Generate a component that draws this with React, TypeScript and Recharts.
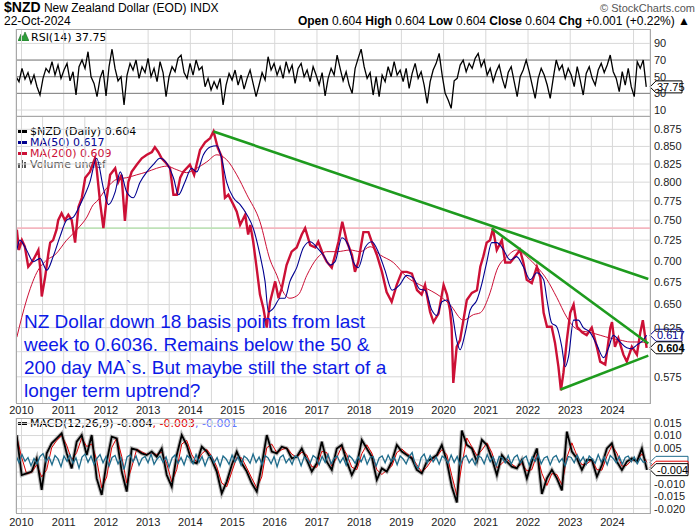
import React from 'react'
import { LineChart, Line, XAxis, YAxis, CartesianGrid, ReferenceLine } from 'recharts'

// ---- data (dates as decimal years) ----

const yearTicks = [2010, 2011, 2012, 2013, 2014, 2015, 2016, 2017, 2018, 2019, 2020, 2021, 2022, 2023, 2024]
// 0.600 sits under the close tag in the original, so it is left out
const priceTicks = [0.575, 0.625, 0.65, 0.675, 0.7, 0.725, 0.75, 0.775, 0.8, 0.825, 0.85, 0.875]
const priceGrid = [0.575, 0.6, 0.625, 0.65, 0.675, 0.7, 0.725, 0.75, 0.775, 0.8, 0.825, 0.85, 0.875]
const rsiTicks = [10, 30, 50, 70, 90]
// 0.000 and -0.005 are hidden by the value tags
const macdTicks = [-0.02, -0.015, -0.01, 0.005, 0.01, 0.015]
const macdGrid = [-0.02, -0.015, -0.01, -0.005, 0, 0.005, 0.01, 0.015]

const closeSeries: [number, number][] = [
  [2009.89, 0.738], [2009.94, 0.713], [2010.01, 0.725], [2010.08, 0.717], [2010.16, 0.693], [2010.24, 0.698], [2010.32, 0.705], [2010.40, 0.713], [2010.44, 0.693], [2010.48, 0.659],
  [2010.56, 0.681], [2010.64, 0.710], [2010.68, 0.722], [2010.75, 0.725], [2010.83, 0.738], [2010.87, 0.750], [2010.95, 0.759], [2011.03, 0.750], [2011.11, 0.757], [2011.19, 0.750],
  [2011.27, 0.722], [2011.35, 0.767], [2011.43, 0.779], [2011.51, 0.806], [2011.62, 0.814], [2011.74, 0.833], [2011.78, 0.819], [2011.86, 0.774], [2011.94, 0.740], [2012.02, 0.779],
  [2012.10, 0.810], [2012.22, 0.819], [2012.29, 0.800], [2012.37, 0.810], [2012.45, 0.749], [2012.53, 0.800], [2012.61, 0.814], [2012.73, 0.824], [2012.85, 0.833], [2012.97, 0.838],
  [2013.09, 0.842], [2013.16, 0.849], [2013.24, 0.842], [2013.32, 0.833], [2013.40, 0.828], [2013.52, 0.819], [2013.60, 0.783], [2013.68, 0.783], [2013.76, 0.806], [2013.83, 0.814],
  [2013.99, 0.824], [2014.09, 0.810], [2014.23, 0.845], [2014.35, 0.856], [2014.47, 0.862], [2014.55, 0.872], [2014.65, 0.848], [2014.74, 0.836], [2014.82, 0.779], [2014.90, 0.783],
  [2015.02, 0.770], [2015.10, 0.761], [2015.18, 0.744], [2015.30, 0.757], [2015.37, 0.732], [2015.42, 0.744], [2015.49, 0.723], [2015.57, 0.692], [2015.65, 0.661], [2015.73, 0.646],
  [2015.81, 0.625], [2015.89, 0.653], [2016.01, 0.676], [2016.09, 0.657], [2016.17, 0.669], [2016.28, 0.695], [2016.40, 0.711], [2016.52, 0.716], [2016.64, 0.732], [2016.72, 0.740],
  [2016.84, 0.719], [2016.96, 0.716], [2017.03, 0.723], [2017.15, 0.707], [2017.23, 0.699], [2017.35, 0.692], [2017.43, 0.707], [2017.51, 0.723], [2017.60, 0.748], [2017.71, 0.723],
  [2017.83, 0.707], [2017.90, 0.687], [2017.98, 0.699], [2018.10, 0.735], [2018.22, 0.735], [2018.30, 0.723], [2018.42, 0.707], [2018.54, 0.687], [2018.65, 0.664], [2018.77, 0.653],
  [2018.89, 0.672], [2019.01, 0.687], [2019.13, 0.687], [2019.25, 0.685], [2019.37, 0.666], [2019.48, 0.661], [2019.56, 0.672], [2019.68, 0.642], [2019.76, 0.631], [2019.88, 0.640],
  [2020.00, 0.672], [2020.08, 0.661], [2020.15, 0.644], [2020.19, 0.626], [2020.23, 0.569], [2020.31, 0.605], [2020.39, 0.612], [2020.47, 0.633], [2020.55, 0.655], [2020.67, 0.663],
  [2020.79, 0.666], [2020.87, 0.693], [2020.94, 0.705], [2021.02, 0.722], [2021.10, 0.725], [2021.17, 0.739], [2021.26, 0.713], [2021.38, 0.725], [2021.46, 0.698], [2021.58, 0.698],
  [2021.69, 0.705], [2021.81, 0.713], [2021.89, 0.698], [2021.97, 0.678], [2022.09, 0.674], [2022.21, 0.693], [2022.29, 0.681], [2022.37, 0.641], [2022.45, 0.626], [2022.56, 0.626],
  [2022.64, 0.609], [2022.72, 0.585], [2022.78, 0.562], [2022.84, 0.579], [2022.92, 0.612], [2023.00, 0.641], [2023.08, 0.650], [2023.16, 0.626], [2023.28, 0.620], [2023.39, 0.617],
  [2023.51, 0.625], [2023.63, 0.605], [2023.71, 0.590], [2023.83, 0.587], [2023.95, 0.625], [2023.99, 0.631], [2024.06, 0.605], [2024.14, 0.614], [2024.26, 0.597], [2024.34, 0.590],
  [2024.46, 0.605], [2024.58, 0.597], [2024.66, 0.620], [2024.72, 0.633], [2024.78, 0.614], [2024.81, 0.604],
]

const ma50Series: [number, number][] = [
  [2009.89, 0.713], [2009.96, 0.725], [2010.12, 0.713], [2010.28, 0.699], [2010.44, 0.703], [2010.60, 0.689], [2010.75, 0.705], [2010.91, 0.729], [2011.07, 0.750], [2011.23, 0.754],
  [2011.39, 0.770], [2011.62, 0.800], [2011.78, 0.833], [2011.94, 0.792], [2012.06, 0.770], [2012.22, 0.787], [2012.34, 0.814], [2012.49, 0.787], [2012.65, 0.779], [2012.81, 0.800],
  [2012.97, 0.814], [2013.12, 0.824], [2013.28, 0.833], [2013.44, 0.826], [2013.60, 0.806], [2013.72, 0.783], [2013.87, 0.800], [2014.03, 0.819], [2014.15, 0.814], [2014.31, 0.838],
  [2014.47, 0.849], [2014.63, 0.851], [2014.74, 0.833], [2014.86, 0.800], [2015.02, 0.779], [2015.18, 0.770], [2015.34, 0.757], [2015.49, 0.740], [2015.65, 0.707], [2015.77, 0.676],
  [2015.85, 0.642], [2015.97, 0.646], [2016.13, 0.657], [2016.24, 0.657], [2016.36, 0.676], [2016.52, 0.692], [2016.68, 0.716], [2016.84, 0.723], [2017.00, 0.716], [2017.15, 0.707],
  [2017.31, 0.695], [2017.43, 0.699], [2017.59, 0.728], [2017.74, 0.719], [2017.86, 0.699], [2017.98, 0.692], [2018.14, 0.716], [2018.30, 0.723], [2018.45, 0.711], [2018.61, 0.689],
  [2018.78, 0.666], [2018.96, 0.672], [2019.13, 0.683], [2019.28, 0.680], [2019.44, 0.667], [2019.56, 0.666], [2019.72, 0.644], [2019.84, 0.638], [2019.96, 0.653], [2020.08, 0.655],
  [2020.19, 0.644], [2020.31, 0.612], [2020.39, 0.602], [2020.51, 0.619], [2020.63, 0.644], [2020.79, 0.655], [2020.91, 0.674], [2021.02, 0.698], [2021.14, 0.722], [2021.26, 0.722],
  [2021.42, 0.713], [2021.58, 0.701], [2021.73, 0.705], [2021.89, 0.693], [2022.05, 0.678], [2022.21, 0.686], [2022.37, 0.678], [2022.45, 0.655], [2022.56, 0.630], [2022.68, 0.626],
  [2022.80, 0.605], [2022.88, 0.585], [2022.96, 0.595], [2023.08, 0.633], [2023.19, 0.633], [2023.31, 0.625], [2023.47, 0.620], [2023.63, 0.607], [2023.79, 0.594], [2023.91, 0.604],
  [2024.02, 0.617], [2024.18, 0.610], [2024.34, 0.604], [2024.46, 0.603], [2024.58, 0.607], [2024.73, 0.612], [2024.81, 0.617],
]

const ma200Series: [number, number][] = [
  [2009.89, 0.615], [2010.12, 0.655], [2010.36, 0.686], [2010.60, 0.701], [2010.79, 0.707], [2011.07, 0.725], [2011.31, 0.738], [2011.55, 0.754], [2011.70, 0.770], [2011.78, 0.774],
  [2012.02, 0.792], [2012.26, 0.804], [2012.49, 0.806], [2012.73, 0.810], [2012.97, 0.814], [2013.20, 0.819], [2013.44, 0.822], [2013.68, 0.817], [2013.91, 0.813], [2014.15, 0.819],
  [2014.39, 0.828], [2014.63, 0.838], [2014.86, 0.831], [2015.10, 0.810], [2015.34, 0.783], [2015.65, 0.748], [2015.89, 0.701], [2016.05, 0.683], [2016.20, 0.664], [2016.36, 0.657],
  [2016.56, 0.661], [2016.76, 0.683], [2017.00, 0.703], [2017.23, 0.711], [2017.47, 0.711], [2017.79, 0.713], [2018.03, 0.711], [2018.26, 0.717], [2018.50, 0.707], [2018.81, 0.698],
  [2019.13, 0.681], [2019.52, 0.670], [2019.92, 0.659], [2020.15, 0.650], [2020.47, 0.633], [2020.71, 0.639], [2020.87, 0.641], [2021.10, 0.663], [2021.26, 0.689], [2021.50, 0.705],
  [2021.73, 0.713], [2021.97, 0.705], [2022.21, 0.693], [2022.45, 0.678], [2022.68, 0.658], [2022.92, 0.636], [2023.08, 0.626], [2023.23, 0.622], [2023.47, 0.620], [2023.71, 0.617],
  [2023.95, 0.614], [2024.18, 0.612], [2024.42, 0.610], [2024.66, 0.610], [2024.81, 0.609],
]

// trend lines drawn on the chart: [start, end] as [date, price]
const trendLines: [[number, number], [number, number]][] = [
  [[2014.55, 0.8717], [2024.85, 0.6787]],
  [[2021.14, 0.7395], [2024.85, 0.6084]],
  [[2022.77, 0.5627], [2024.85, 0.596]],
]
const levelPrice = 0.74
const levelBreaks = [2009.87, 2011.03, 2015.06, 2024.89] // pink / green / pink

// RSI(14), one reading per grid step from RSI_START
const RSI_START = 2009.87
const RSI_STEP = 0.0711
const rsiValues = [
  50, 44, 60, 47, 55, 42, 52, 38, 28, 48,
  60, 55, 68, 52, 64, 48, 58, 66, 45, 56,
  28, 62, 70, 60, 80, 50, 42, 26, 48, 58,
  27, 62, 83, 60, 45, 50, 16, 52, 66, 58,
  70, 48, 62, 55, 72, 50, 60, 44, 68, 55,
  26, 50, 62, 56, 72, 76, 55, 48, 66, 52,
  70, 58, 62, 38, 48, 34, 44, 36, 48, 16,
  40, 54, 46, 58, 40, 52, 35, 48, 58, 42,
  26, 40, 55, 46, 74, 58, 66, 52, 62, 48,
  68, 55, 64, 42, 60, 66, 50, 58, 44, 62,
  52, 40, 55, 27, 48, 60, 52, 76, 60, 45,
  56, 40, 30, 60, 72, 83, 62, 48, 55, 28,
  50, 26, 52, 44, 62, 50, 68, 52, 58, 44,
  60, 36, 54, 66, 48, 56, 40, 18, 44, 58,
  66, 78, 52, 30, 22, 12, 45, 48, 64, 70,
  56, 66, 60, 72, 78, 62, 70, 52, 60, 44,
  56, 64, 48, 36, 55, 62, 44, 26, 50, 58,
  70, 56, 40, 24, 48, 60, 52, 40, 24, 48,
  70, 58, 64, 48, 60, 52, 38, 62, 46, 28,
  54, 62, 48, 40, 58, 66, 55, 64, 76, 56,
  48, 32, 56, 40, 60, 38, 26, 68, 60, 70,
  37.75,
]

// MACD(12,26,9) line and signal, one reading per grid step from MACD_START
const MACD_START = 2009.886
const MACD_STEP = 0.1185
const macdValues = [
  0.0102, -0.0062, -0.0055, -0.0048, 0.0006, -0.0123, 0.0027, 0.0068, 0.0088, 0.0109,
  0.0027, -0.0035, 0.0075, 0.0102, 0.0020, 0.0102, -0.0076, -0.0144, -0.0007, 0.0095,
  0.0088, -0.0048, -0.0130, 0.0047, 0.0041, 0.0027, 0.0020, 0.0034, 0.0013, 0.0047,
  -0.0062, -0.0110, 0.0020, 0.0102, 0.0061, -0.0007, -0.0014, 0.0054, 0.0034, 0.0000,
  -0.0048, -0.0137, -0.0089, -0.0021, 0.0034, -0.0014, -0.0048, -0.0096, -0.0130, -0.0021,
  0.0102, 0.0034, 0.0027, 0.0054, 0.0047, 0.0006, 0.0013, 0.0047, 0.0000, -0.0048,
  -0.0014, 0.0075, -0.0007, -0.0041, 0.0047, 0.0061, -0.0007,
  -0.0062, -0.0021, 0.0082, 0.0047, 0.0013, -0.0082, -0.0035, -0.0048, -0.0007, 0.0061,
  0.0034, 0.0020, 0.0006, -0.0041, -0.0055, -0.0007, 0.0006, 0.0020, 0.0061, -0.0007,
  -0.0110, -0.0175, 0.0120, 0.0061, 0.0047, -0.0007, 0.0082, 0.0061, 0.0006, -0.0062,
  0.0020, -0.0007, -0.0028, -0.0035, 0.0000, -0.0076, -0.0007, 0.0047, -0.0140, -0.0076,
  -0.0041, -0.0076, -0.0125, 0.0116, 0.0034, 0.0006, -0.0041, 0.0000, 0.0000, -0.0069,
  -0.0021, 0.0047, 0.0068, -0.0007, -0.0041, -0.0007, 0.0006, -0.0007, 0.0047, -0.0041,
]
const signalValues = [
  0.0095, 0.0010, -0.0058, -0.0051, -0.0020, -0.0070, -0.0040, 0.0050, 0.0080, 0.0100,
  0.0060, 0.0000, 0.0030, 0.0090, 0.0055, 0.0065, 0.0000, -0.0115, -0.0070, 0.0050,
  0.0090, 0.0015, -0.0095, -0.0030, 0.0044, 0.0033, 0.0023, 0.0028, 0.0022, 0.0032,
  -0.0015, -0.0090, -0.0040, 0.0065, 0.0080, 0.0022, -0.0011, 0.0025, 0.0043, 0.0015,
  -0.0028, -0.0095, -0.0110, -0.0050, 0.0010, 0.0008, -0.0033, -0.0075, -0.0115, -0.0070,
  0.0050, 0.0065, 0.0030, 0.0042, 0.0050, 0.0024, 0.0010, 0.0032, 0.0020, -0.0028,
  -0.0030, 0.0035, 0.0030, -0.0026, 0.0010, 0.0055, 0.0022,
  -0.0030, -0.0040, 0.0025, 0.0062, 0.0028, -0.0040, -0.0060, -0.0042, -0.0025, 0.0030,
  0.0045, 0.0026, 0.0012, -0.0020, -0.0050, -0.0030, 0.0000, 0.0014, 0.0042, 0.0022,
  -0.0065, -0.0145, -0.0020, 0.0090, 0.0054, 0.0018, 0.0040, 0.0070, 0.0030, -0.0032,
  -0.0015, 0.0005, -0.0018, -0.0032, -0.0015, -0.0045, -0.0040, 0.0022, -0.0055, -0.0105,
  -0.0056, -0.0060, -0.0102, 0.0010, 0.0070, 0.0018, -0.0020, -0.0016, 0.0000, -0.0040,
  -0.0042, 0.0015, 0.0058, 0.0028, -0.0026, -0.0022, 0.0000, -0.0002, 0.0025, -0.0010,
]
// histogram, on the RSI grid
const histValues = [
  0.0018, -0.0012, 0.0022, -0.0006, 0.0010, -0.0024, 0.0006, -0.0016, 0.0014, 0.0026,
  -0.0008, 0.0012, -0.0020, 0.0018, 0.0004, -0.0028, 0.0016, -0.0006, 0.0020, -0.0014,
  0.0008, -0.0034, 0.0012, 0.0024, -0.0010, 0.0016, -0.0018, 0.0006, 0.0022, -0.0012,
  0.0014, -0.0026, 0.0010, 0.0018, -0.0016, 0.0008, -0.0040, 0.0012, 0.0020, -0.0008,
  0.0016, -0.0022, 0.0006, 0.0014, -0.0012, 0.0024, -0.0018, 0.0004, 0.0016, -0.0010,
  0.0012, -0.0030, 0.0008, 0.0020, -0.0014, 0.0010, -0.0020, 0.0018, 0.0006, -0.0016,
  0.0022, -0.0010, 0.0014, -0.0024, 0.0008, 0.0018, -0.0012, 0.0010, -0.0026, 0.0016,
  0.0004, -0.0018, 0.0020, -0.0008, 0.0012, -0.0022, 0.0016, 0.0006, -0.0014, 0.0024,
  -0.0010, 0.0012, -0.0020, 0.0018, 0.0008, -0.0016, 0.0014, -0.0028, 0.0010, 0.0020,
  -0.0012, 0.0006, -0.0018, 0.0016, 0.0010, -0.0024, 0.0012, 0.0004, -0.0014, 0.0018,
  0.0008, -0.0020, 0.0014, -0.0010, 0.0022, -0.0016, 0.0006, 0.0016, -0.0012, 0.0010,
  -0.0022, 0.0018, 0.0006, -0.0014, 0.0012, -0.0008, 0.0020, -0.0018, 0.0010, 0.0014,
  -0.0026, 0.0008, 0.0016, -0.0012, 0.0020, -0.0006, 0.0012, -0.0020, 0.0016, 0.0004,
  -0.0016, 0.0014, 0.0030, -0.0020, -0.0036, 0.0010, 0.0024, -0.0012, 0.0018, -0.0008,
  0.0012, -0.0018, 0.0016, 0.0006, -0.0014, 0.0020, -0.0010, 0.0014, -0.0022, 0.0008,
  0.0018, -0.0012, 0.0006, -0.0020, 0.0016, 0.0010, -0.0016, 0.0022, -0.0008, 0.0012,
  -0.0024, 0.0014, 0.0008, -0.0012, 0.0018, -0.0018, 0.0010, 0.0020, -0.0014, 0.0006,
  0.0016, -0.0022, 0.0012, -0.0006, 0.0020, -0.0016, 0.0008, 0.0014, -0.0020, 0.0010,
  0.0018, -0.0010, 0.0006, -0.0024, 0.0014, 0.0010, -0.0012, 0.0020, -0.0008, 0.0012,
  -0.0018, 0.0016, 0.0004, -0.0014, 0.0022, -0.0010, 0.0012, -0.0020, 0.0018, 0.0006,
  -0.0012, 0.0014, -0.0018, 0.0010, 0.0016, -0.0008, 0.0012, -0.0016, 0.0008, -0.0010,
  -0.0006,
]

const annotation = [
  'NZ Dollar down 18 basis points from last',
  'week to 0.6036. Remains below the 50 &',
  '200 day MA`s. But maybe still the start of a',
  'longer term uptrend?',
]

// ---- layout ----
const X_DOMAIN: [number, number] = [2009.87, 2024.89]
const halfYearTicks = yearTicks.flatMap(y => [y, y + 0.5])
const SANS = "'Liberation Sans', Arial, sans-serif"
const NARROW = "'Liberation Sans Narrow', 'Liberation Sans', Arial, sans-serif"
const PANEL = "'DejaVu Sans', Verdana, sans-serif"
const GRID = '#d8d8d8'
const CRIMSON = '#cc1036'
const NAVY = '#000090'
const GREEN = '#1e9b1e'
const TEAL = '#1f6c8c'

const pairs = (arr: [number, number][]) => arr.map(([t, v]) => ({ t, v }))
const onGrid = (vals: number[], start: number, step: number) => vals.map((v, i) => ({ t: start + i * step, v }))

const closeData = pairs(closeSeries)
const ma50Data = pairs(ma50Series)
const ma200Data = pairs(ma200Series)
const rsiData = onGrid(rsiValues, RSI_START, RSI_STEP)
const macdData = onGrid(macdValues, MACD_START, MACD_STEP)
const signalData = onGrid(signalValues, MACD_START, MACD_STEP)
const histData = onGrid(histValues, RSI_START, RSI_STEP)

interface TagProps {
  viewBox?: { x: number; y: number; width: number; height: number }
  text?: string
  color: string
  bold?: boolean
  width?: number
}

function Tag({ viewBox, text, color, bold, width = 32 }: TagProps) {
  if (!viewBox) return null
  const x = viewBox.x + viewBox.width
  const y = viewBox.y
  const h = 12
  return (
    <g>
      <path
        d={`M${x},${y} L${x + 6},${y - h / 2} L${x + width},${y - h / 2} L${x + width},${y + h / 2} L${x + 6},${y + h / 2} Z`}
        fill="#fff"
        stroke={color}
        strokeWidth={1}
      />
      {text && (
        <text x={x + 7} y={y + 4} fontSize={11} fontFamily={SANS} fontWeight={bold ? 'bold' : 'normal'} fill={color}>
          {text}
        </text>
      )}
    </g>
  )
}

const axisTick = { fontSize: 11, fill: '#222', fontFamily: SANS }
const fmtYear = (v: number) => (Number.isInteger(v) ? String(v) : '')

function Panel({ top, height }: { top: number; height: number }) {
  return (
    <div
      style={{
        position: 'absolute', left: 16, top, width: 635, height: height + 1,
        border: '1px solid #a8a8a8', boxSizing: 'border-box', pointerEvents: 'none',
      }}
    />
  )
}

function LegendLine({ top, color, children }: { top: number; color: string; children: React.ReactNode }) {
  return (
    <div style={{ position: 'absolute', left: 18, top, fontFamily: PANEL, fontSize: 11, color, whiteSpace: 'nowrap', lineHeight: '11px' }}>
      <span style={{ display: 'inline-block', width: 9, height: 3, background: color, verticalAlign: 'middle', marginRight: 3, marginBottom: 2 }} />
      {children}
    </div>
  )
}

export default function App() {
  return (
    <div style={{ position: 'absolute', left: 0, top: 0, width: 700, height: 530, background: '#fff', overflow: 'hidden' }}>
      {/* header */}
      <div style={{ position: 'absolute', left: 4, top: 1, fontFamily: NARROW, fontSize: 12, lineHeight: '13px', whiteSpace: 'nowrap' }}>
        <span style={{ fontWeight: 'bold', fontSize: 14 }}>$NZD</span> New Zealand Dollar (EOD) INDX
      </div>
      <div style={{ position: 'absolute', right: 5, top: 2, fontFamily: NARROW, fontSize: 11, lineHeight: '12px', color: '#555', whiteSpace: 'nowrap' }}>
        © StockCharts.com
      </div>
      <div style={{ position: 'absolute', left: 4, top: 15, fontFamily: NARROW, fontSize: 12, lineHeight: '12px', whiteSpace: 'nowrap' }}>22-Oct-2024</div>
      <div style={{ position: 'absolute', right: 10, top: 15, fontFamily: NARROW, fontSize: 12, lineHeight: '12px', whiteSpace: 'nowrap' }}>
        <b>Open</b> 0.604 <b>High</b> 0.604 <b>Low</b> 0.604 <b>Close</b> 0.604 <b>Chg</b> +0.001 (+0.22%) ▲
      </div>

      {/* panel labels, under the plots */}
      <div style={{ position: 'absolute', left: 18, top: 32, fontFamily: PANEL, fontSize: 11, whiteSpace: 'nowrap', lineHeight: '12px' }}>
        <svg width={11} height={9} style={{ marginRight: 2 }}>
          <path d="M0,9 L3,2 L5,5 L7,0 L11,9 Z" fill="#2e9e3a" stroke="#1a6b22" strokeWidth={0.6} />
        </svg>
        RSI(14) 37.75
      </div>
      <LegendLine top={126} color="#000">$NZD (Daily) 0.604</LegendLine>
      <LegendLine top={137} color={NAVY}>MA(50) 0.617</LegendLine>
      <LegendLine top={148} color={CRIMSON}>MA(200) 0.609</LegendLine>
      <div style={{ position: 'absolute', left: 18, top: 159, fontFamily: PANEL, fontSize: 11, color: '#555', whiteSpace: 'nowrap', lineHeight: '11px' }}>
        <svg width={10} height={9} style={{ marginRight: 2 }}>
          <rect x={0} y={4} width={2} height={5} fill="#555" />
          <rect x={3} y={1} width={2} height={8} fill="#555" />
          <rect x={6} y={3} width={2} height={6} fill="#555" />
        </svg>
        Volume undef
      </div>
      <div style={{ position: 'absolute', left: 18, top: 418, fontFamily: PANEL, fontSize: 11, whiteSpace: 'nowrap', lineHeight: '12px' }}>
        <span style={{ display: 'inline-block', width: 9, height: 3, background: '#000', verticalAlign: 'middle', marginRight: 3, marginBottom: 2 }} />
        MACD(12,26,9) -0.004<span style={{ color: '#e00000' }}>, -0.003</span>
        <span style={{ color: '#6275ff' }}>, -0.001</span>
      </div>

      {/* RSI panel */}
      <div style={{ position: 'absolute', left: 0, top: 29 }}>
        <LineChart width={700} height={87} margin={{ top: 0, right: 0, bottom: 0, left: 16 }}>
          <CartesianGrid stroke={GRID} />
          <XAxis type="number" dataKey="t" domain={X_DOMAIN} ticks={halfYearTicks} allowDataOverflow hide />
          <YAxis
            orientation="right" width={50} domain={[2.8, 107.3]} ticks={rsiTicks} interval={0} allowDataOverflow
            tick={axisTick} tickLine={false} axisLine={false} tickSize={3} tickMargin={1}
          />
          <ReferenceLine y={70} stroke="#808080" />
          <ReferenceLine y={50} stroke="#808080" />
          <ReferenceLine y={30} stroke="#808080" />
          <Line data={rsiData} dataKey="v" type="linear" stroke="#000" strokeWidth={1.3} dot={false} isAnimationActive={false} />
          <ReferenceLine y={37.75} stroke="none" ifOverflow="visible" label={<Tag text="37.75" color="#000" />} />
        </LineChart>
      </div>

      {/* price panel */}
      <div style={{ position: 'absolute', left: 0, top: 116 }}>
        <LineChart width={700} height={302} margin={{ top: 0, right: 0, bottom: 0, left: 16 }}>
          <CartesianGrid stroke={GRID} horizontalValues={priceGrid} />
          <XAxis
            type="number" dataKey="t" domain={X_DOMAIN} ticks={halfYearTicks} interval={0} allowDataOverflow
            tickFormatter={fmtYear} tick={axisTick} tickLine={false} axisLine={false} tickSize={0} tickMargin={3} height={15}
          />
          <YAxis
            orientation="right" width={50} scale="log" domain={[0.55, 0.895]} ticks={priceTicks} interval={0} allowDataOverflow
            tickFormatter={(v: number) => v.toFixed(3)} tick={axisTick} tickLine={false} axisLine={false} tickSize={3} tickMargin={1}
          />
          <ReferenceLine segment={[{ x: levelBreaks[0], y: levelPrice }, { x: levelBreaks[1], y: levelPrice }]} stroke="#f4b6bf" strokeWidth={1.6} />
          <ReferenceLine segment={[{ x: levelBreaks[1], y: levelPrice }, { x: levelBreaks[2], y: levelPrice }]} stroke="#bfe2b8" strokeWidth={1.6} />
          <ReferenceLine segment={[{ x: levelBreaks[2], y: levelPrice }, { x: levelBreaks[3], y: levelPrice }]} stroke="#f4b6bf" strokeWidth={1.6} />
          <Line data={closeData} dataKey="v" type="linear" stroke={CRIMSON} strokeWidth={2.4} dot={false} isAnimationActive={false} />
          <Line data={ma200Data} dataKey="v" type="monotone" stroke={CRIMSON} strokeWidth={1} dot={false} isAnimationActive={false} />
          <Line data={ma50Data} dataKey="v" type="monotone" stroke={NAVY} strokeWidth={1.1} dot={false} isAnimationActive={false} />
          {trendLines.map(([a, b], i) => (
            <ReferenceLine key={i} segment={[{ x: a[0], y: a[1] }, { x: b[0], y: b[1] }]} stroke={GREEN} strokeWidth={2.6} />
          ))}
          <ReferenceLine y={0.617} stroke="none" ifOverflow="visible" label={<Tag text="0.617" color={NAVY} />} />
          <ReferenceLine y={0.604} stroke="none" ifOverflow="visible" label={<Tag text="0.604" color="#000" bold />} />
        </LineChart>
      </div>

      {/* annotation */}
      <div style={{ position: 'absolute', left: 24, top: 310, fontFamily: SANS, fontSize: 19, lineHeight: '23px', color: '#0c1ae6', whiteSpace: 'nowrap' }}>
        {annotation.map((l, i) => <div key={i}>{l}</div>)}
      </div>

      {/* MACD panel */}
      <div style={{ position: 'absolute', left: 0, top: 418 }}>
        <LineChart width={700} height={112} margin={{ top: 0, right: 0, bottom: 0, left: 16 }}>
          <CartesianGrid stroke={GRID} horizontalValues={macdGrid} />
          <XAxis
            type="number" dataKey="t" domain={X_DOMAIN} ticks={halfYearTicks} interval={0} allowDataOverflow
            tickFormatter={fmtYear} tick={axisTick} tickLine={false} axisLine={false} tickSize={0} tickMargin={5} height={17}
          />
          <YAxis
            orientation="right" width={50} domain={[-0.0218, 0.0172]} ticks={macdTicks} interval={0} allowDataOverflow
            tickFormatter={(v: number) => v.toFixed(3)} tick={axisTick} tickLine={false} axisLine={false} tickSize={3} tickMargin={1}
          />
          <Line data={macdData} dataKey="v" type="linear" stroke="#9a9a9a" strokeOpacity={0.7} strokeWidth={4} dot={false} isAnimationActive={false} />
          <Line data={signalData} dataKey="v" type="linear" stroke="#e00000" strokeWidth={1} dot={false} isAnimationActive={false} />
          <Line data={macdData} dataKey="v" type="linear" stroke="#000" strokeWidth={1.8} dot={false} isAnimationActive={false} />
          <Line data={histData} dataKey="v" type="linear" stroke={TEAL} strokeWidth={1.3} dot={false} isAnimationActive={false} />
          <ReferenceLine y={-0.001} stroke="none" ifOverflow="visible" label={<Tag color={TEAL} width={38} />} />
          <ReferenceLine y={-0.003} stroke="none" ifOverflow="visible" label={<Tag color="#e00000" width={38} />} />
          <ReferenceLine y={-0.004} stroke="none" ifOverflow="visible" label={<Tag text="-0.004" color="#000" width={38} />} />
        </LineChart>
      </div>

      <Panel top={29} height={87} />
      <Panel top={116} height={287} />
      <Panel top={418} height={95} />
    </div>
  )
}
